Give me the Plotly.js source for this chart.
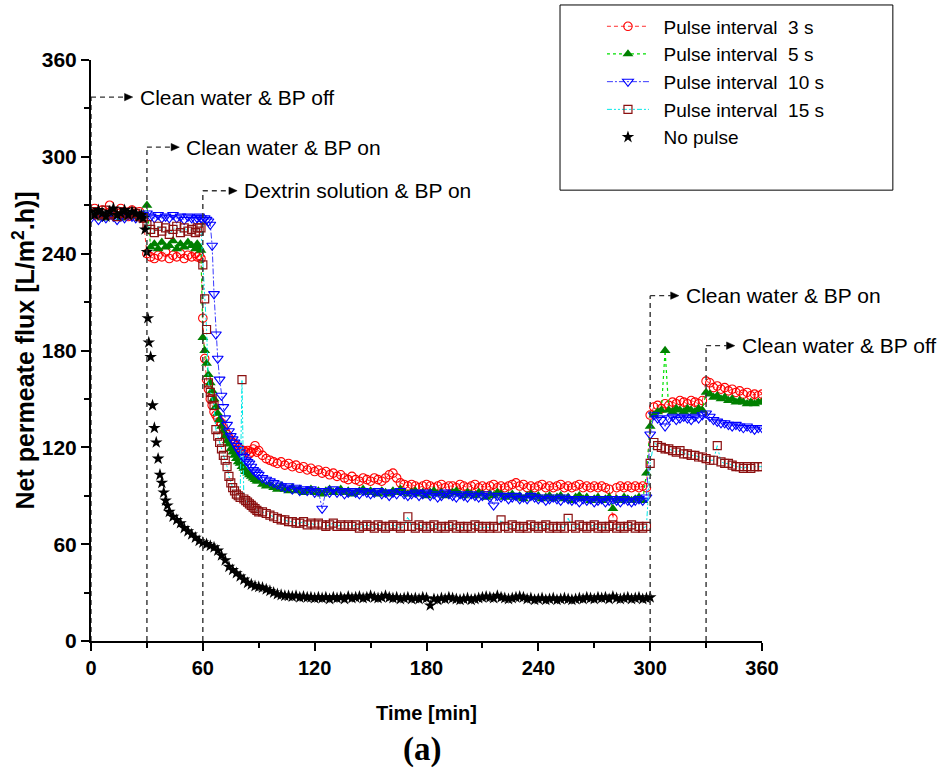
<!DOCTYPE html>
<html><head><meta charset="utf-8">
<script src="https://cdn.plot.ly/plotly-3.0.1.min.js"></script>
<style>html,body{margin:0;padding:0;background:#fff;}#chart{width:940px;height:771px;}</style>
</head><body><div id="chart"></div>
<script>
// Shared sampling times [min] for the pulsed series
const time = [0,2,4,6,8,10,12,14,16,18,20,22,24,26,28,30,32,34,36,38,40,42,44,46,48,50,52,54,56,
57,58,59,60,61,62,63,64,65,66,67,68,69,70,71,72,73,74,75,76,77,78,79,80,81,82,83,84,85,86,87,88,89,90,
92,94,96,98,100,102,104,106,108,110,112,114,116,118,120,122,124,126,128,130,132,134,136,138,140,142,144,146,148,150,152,154,156,158,160,162,164,166,168,170,
172,174,176,178,180,182,184,186,188,190,192,194,196,198,200,202,204,206,208,210,212,214,216,218,220,222,224,226,228,230,232,234,236,238,240,242,244,246,248,250,252,254,256,258,260,262,264,266,268,270,272,274,276,278,280,282,284,286,288,290,292,294,296,298,
300,302,304,306,308,310,312,314,316,318,320,322,324,326,328,330,332,334,336,338,340,342,344,346,348,350,352,354,356,358,360];

const flux3s = [266,268,265,267,264,270,266,265,268,266,263,267,265,266,262,
240,238,237,239,238,241,237,239,238,240,237,239,238,240,
238,239,237,200,175,162,156,150,146,142,140,138,136,135,132,130,128,126,124,123,122,121,120,119,118,118,117,118,116,117,119,121,117,118,
115,113,112,111,110,111,109,110,108,109,107,108,106,107,105,106,104,105,103,104,102,103,101,100,102,100,99,101,100,99,101,100,99,101,103,104,101,98,97,96,
97,96,95,96,97,96,95,96,97,95,96,96,95,97,96,95,96,97,95,96,95,96,97,95,96,95,96,97,98,96,97,95,96,95,96,97,95,96,95,96,97,95,96,95,96,97,95,96,95,96,95,96,95,94,76,95,96,95,96,95,96,95,96,95,
140,145,146,144,147,146,148,147,149,148,147,149,148,147,149,161,160,157,158,156,157,155,156,154,155,153,154,152,153,152,153];

const flux5s = [264,263,265,262,264,263,265,264,262,263,264,265,263,262,264,
270,244,246,243,247,244,245,248,243,246,244,247,245,243,
246,244,242,188,180,172,165,160,155,150,145,141,137,133,130,127,124,122,119,117,115,113,111,110,108,107,105,104,103,102,101,100,99,99,
97,96,97,95,94,96,94,93,95,93,94,92,93,94,92,93,91,93,94,92,93,94,92,93,91,92,93,94,92,93,92,91,93,92,91,93,92,94,92,91,
92,93,91,92,90,92,93,91,92,90,91,92,93,91,90,92,91,90,92,91,89,91,90,92,91,89,90,91,89,90,88,90,91,89,90,88,89,90,88,89,90,88,89,87,89,90,88,89,87,88,89,87,88,89,82,88,87,89,88,87,88,89,87,104,
133,140,142,143,180,143,142,144,143,142,144,143,142,144,143,154,153,151,152,150,151,149,150,148,149,148,147,148,147,148,148];

const flux10s = [262,264,261,263,262,264,263,261,263,262,264,263,262,263,264,
265,263,262,264,262,263,262,264,262,263,261,263,262,261,
262,263,262,261,262,261,260,258,245,215,190,175,162,152,145,138,134,130,127,125,123,121,119,117,115,114,112,111,110,108,106,105,104,103,
101,100,99,98,97,96,95,96,94,95,93,94,93,94,92,93,82,93,92,94,92,93,91,92,93,92,91,93,92,91,92,93,91,92,90,92,91,93,91,90,
91,92,90,91,92,90,91,89,90,92,91,90,89,91,90,89,91,90,89,90,91,89,84,90,89,90,88,89,90,88,89,88,90,89,88,89,87,88,89,88,87,89,88,87,88,86,88,87,88,86,87,88,86,87,88,87,86,88,87,86,87,88,87,89,
128,140,138,137,133,138,139,137,138,139,138,137,139,138,140,141,139,137,136,135,135,134,133,134,133,132,133,132,131,132,132];

const flux15s = [265,266,264,265,267,264,265,263,266,265,264,266,265,263,262,
258,255,253,257,254,256,252,255,257,253,256,254,255,253,
256,254,256,233,212,193,160,154,150,146,131,127,123,119,115,112,108,102,98,95,93,91,90,89,162,88,87,86,85,84,83,82,81,80,
80,79,78,77,76,75,75,74,74,73,73,74,72,73,72,73,72,71,72,73,71,72,71,72,71,72,70,71,72,71,70,72,71,70,71,72,71,70,71,77,
71,70,72,71,70,71,72,70,71,70,71,72,70,71,70,71,70,72,71,70,71,70,71,70,75,71,70,72,71,70,71,70,72,71,70,71,72,70,71,70,71,70,76,71,70,72,71,70,71,72,70,71,70,71,72,70,71,70,71,72,70,71,70,71,
110,123,121,120,119,119,118,117,118,116,116,115,115,114,114,113,112,112,121,111,110,110,109,108,108,107,108,107,108,108,108];

// No pulse: own sampling times
const timeNoPulse = [0,2,4,6,8,10,12,14,16,18,20,22,24,26,
27,28,29,30,30.5,31,32,33,34,35,36,37,38,39,40,41,
42,44,46,48,50,52,54,56,58,60,62,64,66,68,70,72,74,76,78,80,82,84,86,88,90,92,94,96,98,100,102,104,106,108,110,112,114,116,118,120,
122,124,126,128,130,132,134,136,138,140,142,144,146,148,150,152,154,156,158,160,162,164,166,168,170,172,174,176,178,180,
182,184,186,188,190,192,194,196,198,200,202,204,206,208,210,212,214,216,218,220,222,224,226,228,230,232,234,236,238,240,
242,244,246,248,250,252,254,256,258,260,262,264,266,268,270,272,274,276,278,280,282,284,286,288,290,292,294,296,298,300];
const fluxNoPulse = [266,264,267,265,263,266,268,264,265,267,264,266,265,263,
264,262,255,241,200,185,176,146,132,123,113,103,98,92,87,84,
80,77,75,73,70,68,66,64,62,61,60,59,58,56,53,50,46,44,42,40,38,36,35,34,33.5,33,32,31,30,29,28.5,28,28,27.5,28,27,27.5,27,27,26.5,
27,26.5,27,26,27,26.5,27,26,27.5,26.5,27,27.5,26.5,27,28,27,26.5,27,28,27,26.5,27,26,26.5,27,26,26.5,26,27,26.5,
22,26,25.5,26.5,26,27,26.5,26,25.5,26,26.5,25.5,26,26.5,27,27.5,27,26.5,28,27,26.5,26,26.5,27,27.5,27,26,26.5,25.5,26,
26.5,25.5,26,26.5,25.5,26,26.5,26,25.5,26,26.5,26,27,26.5,26,27,26.5,27,26,27.5,26.5,26,26.5,27,26,26.5,27,26,26.5,27];

const seriesNames = ['Pulse interval\u00a0 3 s','Pulse interval\u00a0 5 s','Pulse interval\u00a0 10 s','Pulse interval\u00a0 15 s','No pulse'];
const xTicks = [0,60,120,180,240,300,360];
const yTicks = [0,60,120,180,240,300,360];

// Event annotations
const eventTimes = [0,30,60,300,330];
const eventLevels = [337,306,279,214,183];
const eventLabelX = [25,50,81,318,348];
const eventLabels = ['Clean water & BP off','Clean water & BP on','Dextrin solution & BP on','Clean water & BP on','Clean water & BP off'];

const FONT = 'Liberation Sans, Arial, sans-serif';

const traces = [
 {name:'\u2002' + seriesNames[0], x:time, y:flux3s, mode:'lines+markers',
  line:{color:'#ff3030', width:1, dash:'4px,3px'},
  marker:{symbol:'circle-open', size:8.5, color:'#ff0000', line:{width:1.1, color:'#ff0000'}}},
 {name:'\u2002' + seriesNames[1], x:time, y:flux5s, mode:'lines+markers',
  line:{color:'#00e000', width:1.2, dash:'dot'},
  marker:{symbol:'triangle-up', size:9.5, color:'#008000', line:{width:0}}},
 {name:'\u2002' + seriesNames[2], x:time, y:flux10s, mode:'lines+markers',
  line:{color:'#3a3aff', width:1, dash:'6px,2px,2px,2px'},
  marker:{symbol:'triangle-down-open', size:9.5, color:'#0000ff', line:{width:1.1, color:'#0000ff'}}},
 {name:'\u2002' + seriesNames[3], x:time, y:flux15s, mode:'lines+markers',
  line:{color:'#00e8e8', width:1, dash:'5px,2px,2px,2px,2px,2px'},
  marker:{symbol:'square-open', size:8, color:'#8b1010', line:{width:1.2, color:'#8b1010'}}},
 {name:'\u2002' + seriesNames[4], x:timeNoPulse, y:fluxNoPulse, mode:'markers',
  marker:{symbol:'star', size:9.5, color:'#000000', line:{width:0}}}
];

const shapes = [];
const annotations = [];
eventTimes.forEach((t,i)=>{
  const lv = eventLevels[i];
  const tip = eventLabelX[i] - 2.6;
  const headLen = 4.4;
  shapes.push({type:'line', xref:'x', yref:'y', x0:t, x1:t, y0:0, y1:lv,
    line:{color:'#333', width:1.4, dash:'5px,4px'}});
  shapes.push({type:'line', xref:'x', yref:'y', x0:t, x1:tip-headLen, y0:lv, y1:lv,
    line:{color:'#333', width:1.4, dash:'5px,4px'}});
  shapes.push({type:'path', xref:'x', yref:'y',
    path:`M${tip},${lv} L${tip-headLen},${lv+2.3} L${tip-headLen},${lv-2.3} Z`,
    fillcolor:'#000', line:{color:'#000', width:0.5}});
  annotations.push({x:eventLabelX[i], y:lv, xref:'x', yref:'y', xanchor:'left', yanchor:'middle',
    text:eventLabels[i], showarrow:false, font:{family:FONT, size:21, color:'#000'}});
});
// legend frame
shapes.push({type:'rect', xref:'paper', yref:'paper', x0:0.699, x1:1.195, y0:0.776, y1:1.0947,
  line:{color:'#000', width:1}, fillcolor:'rgba(0,0,0,0)'});
annotations.push({xref:'paper', yref:'paper', x:0.493, y:-0.1876, xanchor:'center', yanchor:'middle',
  text:'<b>(a)</b>', showarrow:false, font:{family:'Liberation Serif, Times New Roman, serif', size:33, color:'#000'}});

const axisCommon = {
  showline:true, linecolor:'#000', linewidth:2, mirror:false,
  ticks:'outside', ticklen:8, tickwidth:2, tickcolor:'#000',
  showgrid:false, zeroline:false, automargin:false,
  minor:{dtick:30, ticks:'outside', ticklen:5, tickwidth:2, tickcolor:'#000', showgrid:false}
};

const layout = {
  width:940, height:771,
  margin:{l:91, r:178, t:60, b:130, autoexpand:false},
  paper_bgcolor:'#fff', plot_bgcolor:'#fff',
  showlegend:true,
  legend:{x:0.7615, y:1.0905, xanchor:'left', yanchor:'top', bgcolor:'rgba(0,0,0,0)', borderwidth:0,
    font:{family:FONT, size:19, color:'#000'}, itemwidth:42, tracegroupgap:0},
  xaxis:Object.assign({}, axisCommon, {range:[0,360], tickvals:xTicks, ticktext:xTicks.map(String),
    tickfont:{family:FONT, size:20, color:'#000', weight:'bold'},
    title:{text:'Time [min]', font:{family:FONT, size:20, color:'#000', weight:'bold'}, standoff:28}}),
  yaxis:Object.assign({}, axisCommon, {range:[0,360], tickvals:yTicks, ticktext:yTicks.map(String),
    tickfont:{family:FONT, size:21, color:'#000', weight:'bold'},
    title:{text:'Net permeate flux [L/m<sup>2</sup>.h)]', font:{family:FONT, size:25, color:'#000', weight:'bold'}, standoff:0}}),
  shapes:shapes, annotations:annotations
};

Plotly.newPlot('chart', traces, layout, {staticPlot:true, displayModeBar:false});
</script></body></html>
